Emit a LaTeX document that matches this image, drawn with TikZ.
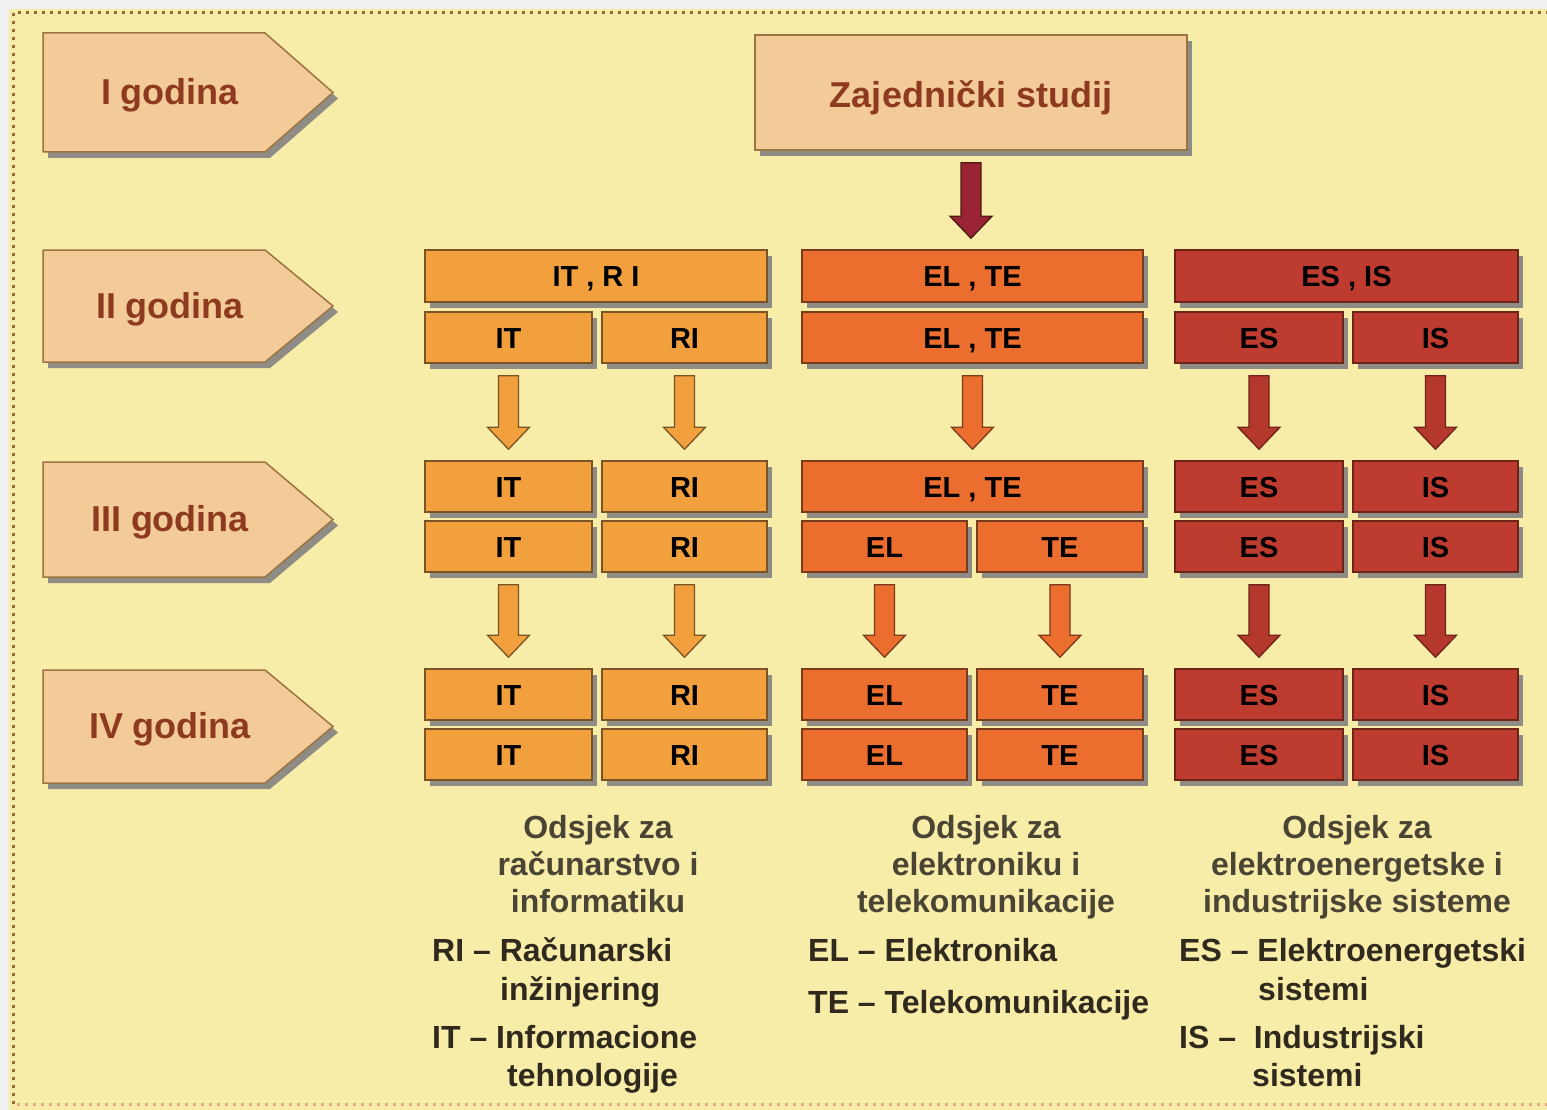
\documentclass[tikz,border=0pt]{standalone}
\usepackage{fontspec}
\setmainfont{Liberation Sans}
\usetikzlibrary{shadows,calc}
\definecolor{bg}{HTML}{F7ECA8}
\definecolor{edgec}{HTML}{EEF0F2}
\definecolor{framec}{HTML}{9A6A3A}
\definecolor{framed}{HTML}{E8A890}
\definecolor{peach}{HTML}{F3CB98}
\definecolor{peachline}{HTML}{9C7442}
\definecolor{yeartext}{HTML}{8E3A1F}
\definecolor{orA}{HTML}{F2A03E}
\definecolor{orB}{HTML}{EC6E2F}
\definecolor{orC}{HTML}{BE3B2F}
\definecolor{lineA}{HTML}{7A5424}
\definecolor{lineB}{HTML}{7A3A1C}
\definecolor{lineC}{HTML}{6E2418}
\definecolor{shade}{HTML}{8E8C84}
\definecolor{topar}{HTML}{9A2434}
\definecolor{toparline}{HTML}{4E1A14}
\definecolor{txtA}{HTML}{3E2A12}
\definecolor{txtC}{HTML}{FAD9C4}
\definecolor{legh}{HTML}{4A4434}
\definecolor{legd}{HTML}{302A1E}
\tikzset{
  shd/.style={drop shadow={shadow xshift=5pt,shadow yshift=-6pt,fill=shade,opacity=1}},
  cell/.style={shd, rectangle, inner sep=0pt, line width=1.5pt,
    font=\fontsize{29}{32}\selectfont\bfseries},
  cellA/.style={cell, fill=orA, draw=lineA, text=txtA},
  cellB/.style={cell, fill=orB, draw=lineB, text=txtA},
  cellC/.style={cell, fill=orC, draw=lineC, text=txtC},
  yearshape/.style={shd, fill=peach, draw=peachline, line width=1.5pt},
  yearlbl/.style={inner sep=0pt, text=yeartext, font=\fontsize{36}{40}\selectfont\bfseries},
  legh/.style={inner sep=0pt, text=legh, font=\fontsize{32}{38}\selectfont\bfseries},
  legd/.style={inner sep=0pt, text=legd, font=\fontsize{32}{38}\selectfont\bfseries},
  barrowA/.style={fill=orA, draw=lineA, line width=1.3pt},
  barrowB/.style={fill=orB, draw=lineB, line width=1.3pt},
  barrowC/.style={fill=orC!95!black, draw=lineC, line width=1.3pt},
  barrowT/.style={fill=topar, draw=toparline, line width=1.3pt},
}
% style, name, x1, x2, y1, y2, text
\newcommand\cellbox[7]{%
  \node[#1, minimum width={#4pt-#3pt}, minimum height={#6pt-#5pt}] (#2) at ({(#3+#4)/2},{(#5+#6)/2}) {};
  \node[inner sep=0pt, anchor=base] (#2-t) at ({(#3+#4)/2},{(#5+#6)/2+10.5}) {\fontsize{29}{32}\selectfont\bfseries\strut\smash{#7}};}
% style, from, to
\newcommand\blockarrow[3]{%
  \path[#1] let \p1=(#2.south), \p2=(#3.north) in
    (\x1-10pt,\y1-12pt) -- (\x1+10pt,\y1-12pt) -- (\x1+10pt,\y2+33pt) --
    (\x1+21pt,\y2+33pt) -- (\x1,\y2+11pt) -- (\x1-21pt,\y2+33pt) --
    (\x1-10pt,\y2+33pt) -- cycle;}
% name, top, bottom, text
\newcommand\yearbox[4]{%
  \path[yearshape] (43,#2) -- (265,#2) -- (333,{(#2+#3)/2}) -- (265,#3) -- (43,#3) -- cycle;
  \node[yearlbl, anchor=base] (#1) at (170,{(#2+#3)/2+12}) {#4};}
\begin{document}
\begin{tikzpicture}[x=1pt,y=-1pt]
\useasboundingbox (0,0) rectangle (1547,1110);
\fill[edgec] (0,0) rectangle (1547,1110);
\fill[bg] (9,9) rectangle (1547,1110);
\draw[framec, line width=3pt, dash pattern=on 3pt off 5pt] (13,1104) -- (13,13) -- (1547,13);
\draw[framed, line width=3pt, dash pattern=on 3pt off 5pt] (17,1104) -- (1547,1104);

% year labels
\yearbox{y1}{33}{152}{I godina}
\yearbox{y2}{250}{362}{II godina}
\yearbox{y3}{462}{577}{III godina}
\yearbox{y4}{670}{783}{IV godina}

% common study
\node[shd, fill=peach, draw=peachline, line width=1.5pt, minimum width=432pt, minimum height=115pt, inner sep=0pt] (zaj) at (971,92.5) {};
\node[yearlbl, anchor=base] (zajt) at (971,108) {Zajednički studij};

% row II
\cellbox{cellA}{a2t}{425}{767}{250}{302}{IT , R I}
\cellbox{cellB}{b2t}{802}{1143}{250}{302}{EL , TE}
\cellbox{cellC}{c2t}{1175}{1518}{250}{302}{ES , IS}
\cellbox{cellA}{a2l}{425}{592}{312}{363}{IT}
\cellbox{cellA}{a2r}{602}{767}{312}{363}{RI}
\cellbox{cellB}{b2b}{802}{1143}{312}{363}{EL , TE}
\cellbox{cellC}{c2l}{1175}{1343}{312}{363}{ES}
\cellbox{cellC}{c2r}{1353}{1518}{312}{363}{IS}

% row III
\cellbox{cellA}{a3tl}{425}{592}{461}{512}{IT}
\cellbox{cellA}{a3tr}{602}{767}{461}{512}{RI}
\cellbox{cellB}{b3t}{802}{1143}{461}{512}{EL , TE}
\cellbox{cellC}{c3tl}{1175}{1343}{461}{512}{ES}
\cellbox{cellC}{c3tr}{1353}{1518}{461}{512}{IS}
\cellbox{cellA}{a3bl}{425}{592}{521}{572}{IT}
\cellbox{cellA}{a3br}{602}{767}{521}{572}{RI}
\cellbox{cellB}{b3bl}{802}{967}{521}{572}{EL}
\cellbox{cellB}{b3br}{977}{1143}{521}{572}{TE}
\cellbox{cellC}{c3bl}{1175}{1343}{521}{572}{ES}
\cellbox{cellC}{c3br}{1353}{1518}{521}{572}{IS}

% row IV
\cellbox{cellA}{a4tl}{425}{592}{669}{720}{IT}
\cellbox{cellA}{a4tr}{602}{767}{669}{720}{RI}
\cellbox{cellB}{b4tl}{802}{967}{669}{720}{EL}
\cellbox{cellB}{b4tr}{977}{1143}{669}{720}{TE}
\cellbox{cellC}{c4tl}{1175}{1343}{669}{720}{ES}
\cellbox{cellC}{c4tr}{1353}{1518}{669}{720}{IS}
\cellbox{cellA}{a4bl}{425}{592}{729}{780}{IT}
\cellbox{cellA}{a4br}{602}{767}{729}{780}{RI}
\cellbox{cellB}{b4bl}{802}{967}{729}{780}{EL}
\cellbox{cellB}{b4br}{977}{1143}{729}{780}{TE}
\cellbox{cellC}{c4bl}{1175}{1343}{729}{780}{ES}
\cellbox{cellC}{c4br}{1353}{1518}{729}{780}{IS}

% arrows
\blockarrow{barrowT}{zaj}{b2t}
\blockarrow{barrowA}{a2l}{a3tl}
\blockarrow{barrowA}{a2r}{a3tr}
\blockarrow{barrowB}{b2b}{b3t}
\blockarrow{barrowC}{c2l}{c3tl}
\blockarrow{barrowC}{c2r}{c3tr}
\blockarrow{barrowA}{a3bl}{a4tl}
\blockarrow{barrowA}{a3br}{a4tr}
\blockarrow{barrowB}{b3bl}{b4tl}
\blockarrow{barrowB}{b3br}{b4tr}
\blockarrow{barrowC}{c3bl}{c4tl}
\blockarrow{barrowC}{c3br}{c4tr}

% legends column A
\node[legh, anchor=base] (la1) at (598,838) {Odsjek za};
\node[legh, anchor=base] (la2) at (598,875) {računarstvo i};
\node[legh, anchor=base] (la3) at (598,912) {informatiku};
\node[legd, anchor=base west] (la4) at (432,961) {RI – Računarski};
\node[legd, anchor=base west] (la5) at (500,1000) {inžinjering};
\node[legd, anchor=base west] (la6) at (432,1048) {IT – Informacione};
\node[legd, anchor=base west] (la7) at (507,1086) {tehnologije};

% legends column B
\node[legh, anchor=base] (lb1) at (986,838) {Odsjek za};
\node[legh, anchor=base] (lb2) at (986,875) {elektroniku i};
\node[legh, anchor=base] (lb3) at (986,912) {telekomunikacije};
\node[legd, anchor=base west] (lb4) at (808,961) {EL – Elektronika};
\node[legd, anchor=base west] (lb5) at (808,1013) {TE – Telekomunikacije};

% legends column C
\node[legh, anchor=base] (lc1) at (1357,838) {Odsjek za};
\node[legh, anchor=base] (lc2) at (1357,875) {elektroenergetske i};
\node[legh, anchor=base] (lc3) at (1357,912) {industrijske sisteme};
\node[legd, anchor=base west] (lc4) at (1179,961) {ES – Elektroenergetski};
\node[legd, anchor=base west] (lc5) at (1258,1000) {sistemi};
\node[legd, anchor=base west] (lc6) at (1179,1048) {IS –\ \ Industrijski};
\node[legd, anchor=base west] (lc7) at (1252,1086) {sistemi};
\end{tikzpicture}
\end{document}
